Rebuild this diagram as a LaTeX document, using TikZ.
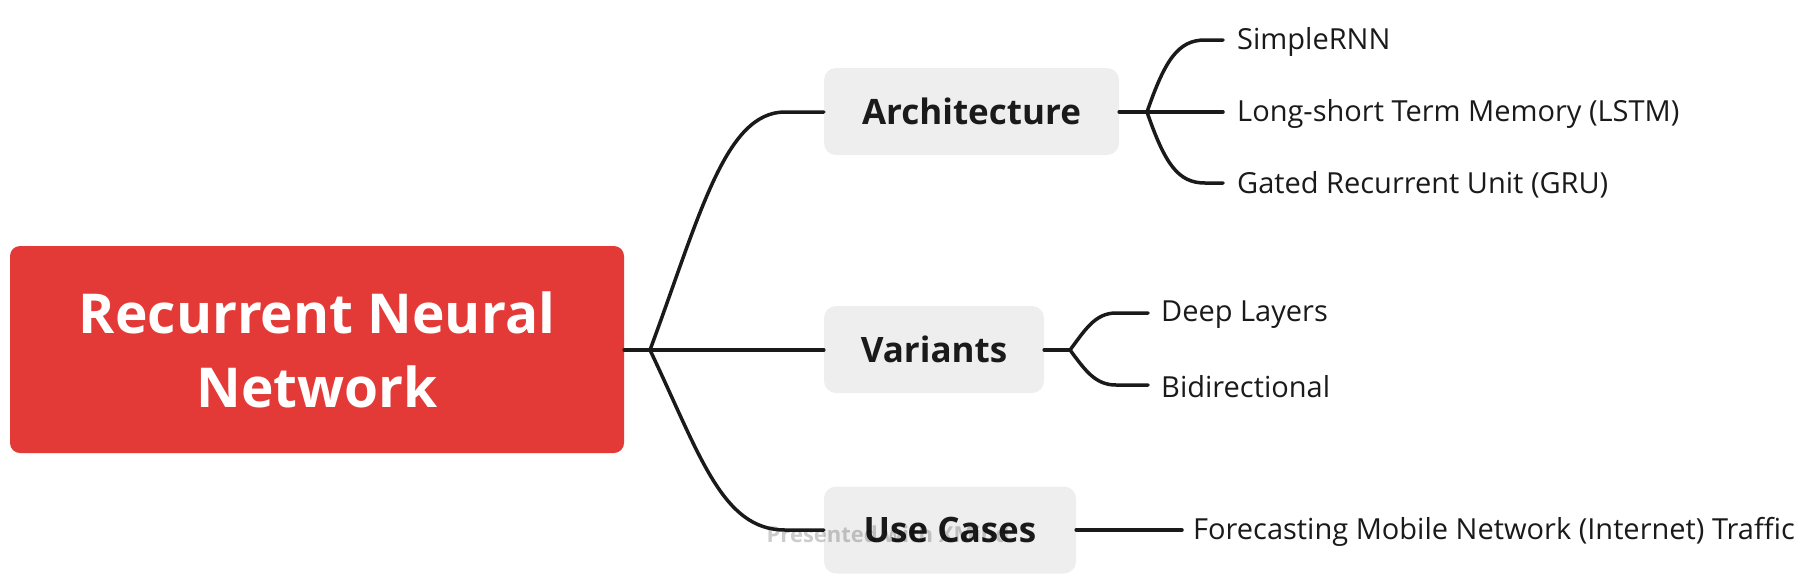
\documentclass[tikz,border=0pt]{standalone}
\usepackage{fontspec}
\setmainfont{Open Sans}
\definecolor{rootred}{HTML}{E33A37}
\definecolor{boxgray}{HTML}{EEEEEE}
\definecolor{ink}{HTML}{1A1A1A}
\begin{document}
\begin{tikzpicture}[x=1pt,y=-1pt,
  rootbox/.style={fill=rootred, rounded corners=10pt, text=white, font=\fontsize{55}{74}\selectfont\bfseries, align=center, inner sep=0pt},
  topicbox/.style={fill=boxgray, rounded corners=12pt, text=ink, font=\fontsize{35}{40}\selectfont\bfseries, inner sep=0pt, minimum height=87pt},
  leaf/.style={text=ink, font=\fontsize{29}{33}\selectfont, anchor=west, inner sep=0pt},
  conn/.style={draw=ink, line width=3.5pt, line cap=round},
  wmark/.style={text=black, text opacity=0.2, font=\fontsize{22}{26}\selectfont\bfseries, inner sep=0pt}
]
\useasboundingbox (0,0) rectangle (1804,584);
\node[rootbox, minimum width=614pt, minimum height=207pt] (root) at (317,349.5) {Recurrent Neural\\Network};
\node[topicbox, minimum width=295pt] (arch) at (971.5,111.5) {Architecture};
\node[topicbox, minimum width=220pt] (var) at (934,349.5) {Variants};
\node[topicbox, minimum width=252pt] (use) at (950,530) {Use Cases};
\node[wmark] (wm) at (888,534) {Presented with XMind};

\coordinate (j0) at (650,350);
\coordinate (ja) at (1147,112);
\coordinate (jv) at (1070,350);

\node[leaf] (s1) at (1237,42) {SimpleRNN};
\node[leaf] (s2) at (1237,114) {Long-short Term Memory (LSTM)};
\node[leaf] (s3) at (1237,185) {Gated Recurrent Unit (GRU)};
\node[leaf] (v1) at (1161,315) {Deep Layers};
\node[leaf] (v2) at (1161,387) {Bidirectional};
\node[leaf] (u1) at (1193,532) {Forecasting Mobile Network (Internet) Traffic};

\draw[conn] (root.east |- j0) -- (j0) -- (var.west |- j0);
\draw[conn] (j0) .. controls (700,215) and (725,112) .. (785,112) -- (arch.west |- 0,112);
\draw[conn] (j0) .. controls (700,455) and (722,530) .. (785,530) -- (use.west |- 0,530);

\draw[conn] (arch.east |- ja) -- (ja) -- (1223,112);
\draw[conn] (ja) .. controls (1165,60) and (1178,40) .. (1205,40) -- (1223,40);
\draw[conn] (ja) .. controls (1165,164) and (1178,183) .. (1205,183) -- (1223,183);

\draw[conn] (var.east |- jv) -- (jv);
\draw[conn] (jv) .. controls (1085,330) and (1095,313) .. (1116,313) -- (1148,313);
\draw[conn] (jv) .. controls (1085,370) and (1095,385) .. (1116,385) -- (1148,385);

\draw[conn] (use.east |- 0,530) -- (1182,530);
\end{tikzpicture}
\end{document}
